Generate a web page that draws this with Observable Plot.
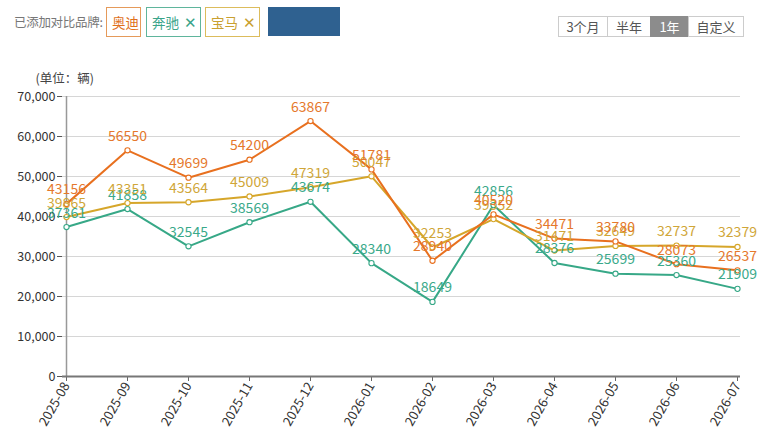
<!DOCTYPE html>
<html>
<head>
<meta charset="utf-8">
<script src="https://cdn.jsdelivr.net/npm/d3@7"></script>
<script src="https://cdn.jsdelivr.net/npm/@observablehq/plot@0.6"></script>
<style>
  html, body { margin: 0; padding: 0; background: #fff; }
  body { width: 764px; height: 433px; position: relative; overflow: hidden;
         font-family: "Noto Sans CJK SC", "Noto Sans", sans-serif; }
  #header { position: relative; height: 50px; }
  .abs { position: absolute; box-sizing: border-box; }
  .lbl { left: 14px; top: 12px; font-size: 12.5px; color: #777; line-height: 20px; letter-spacing: -0.3px; }
  .tag { top: 7px; height: 30px; border: 1px solid; font-size: 13.5px; line-height: 28px; padding-left: 5px; white-space: nowrap; }
  .x { font-size: 15px; margin-left: 5px; }
  .btn { top: 16px; height: 21px; border: 1px solid #ccc; font-size: 13px; line-height: 19px; text-align: center; color: #555; }
  #chart { position: absolute; left: 0; top: 50px; }
</style>
</head>
<body>
<div id="header"></div>
<div id="chart"></div>
<script>
const months = ["2025-08","2025-09","2025-10","2025-11","2025-12","2026-01","2026-02","2026-03","2026-04","2026-05","2026-06","2026-07"];
const brands = ["奥迪","奔驰","宝马"];
const audi = [43156, 56550, 49699, 54200, 63867, 51781, 28940, 40520, 34471, 33780, 28073, 26537];
const benz = [37361, 41858, 32545, 38569, 43674, 28340, 18649, 42856, 28376, 25699, 25360, 21909];
const bmw  = [39865, 43351, 43564, 45009, 47319, 50047, 32253, 39352, 31471, 32649, 32737, 32379];
const yTicks = [0, 10000, 20000, 30000, 40000, 50000, 60000, 70000];
const rangeButtons = ["3个月","半年","1年","自定义"];
const unitLabel = "(单位：辆)";
const headerLabel = "已添加对比品牌:";

const colors = {"奥迪": "#e8701f", "奔驰": "#37a887", "宝马": "#d6a62a"};
const textColors = {"奥迪": "#e5782c", "奔驰": "#3aa98a", "宝马": "#d0a638"};

// header (HTML)
const header = document.getElementById("header");
header.innerHTML = `
  <div class="abs lbl">${headerLabel}</div>
  <div class="abs tag" style="left:106px;width:35px;border-color:#e59a5a;color:#e0701c">${brands[0]}</div>
  <div class="abs tag" style="left:146px;width:55px;border-color:#5fb59c;color:#3aa48a">${brands[1]}<span class="x">✕</span></div>
  <div class="abs tag" style="left:205px;width:55px;border-color:#dcbc5c;color:#c9a030">${brands[2]}<span class="x">✕</span></div>
  <div class="abs" style="left:268px;top:7px;width:72px;height:29px;background:#2f6190"></div>
  <div class="abs btn" style="left:558px;width:50px">${rangeButtons[0]}</div>
  <div class="abs btn" style="left:607px;width:44px">${rangeButtons[1]}</div>
  <div class="abs btn" style="left:650px;width:39px;background:#8c8c8c;border-color:#8c8c8c;color:#fff">${rangeButtons[2]}</div>
  <div class="abs btn" style="left:688px;width:56px">${rangeButtons[3]}</div>
`;

const series = [[brands[0], audi], [brands[1], benz], [brands[2], bmw]];
const data = series.flatMap(([b, vals]) => vals.map((v, i) => ({brand: b, month: months[i], value: v})));
const drawOrder = ["奔驰", "宝马", "奥迪"];

const marks = [
  Plot.gridY(yTicks.slice(1), {stroke: "#d6d6d6", strokeOpacity: 1, strokeWidth: 1}),
  Plot.axisY(yTicks, {tickFormat: d3.format(","), tickSize: 5, tickPadding: 2, fontSize: 12.5, fill: "#333", stroke: "#555", label: null}),
  Plot.axisX({tickRotate: -60, tickSize: 5, tickPadding: 2, fontSize: 13, fill: "#333", stroke: "#666", label: null}),
  Plot.ruleX([months[0]], {stroke: "#999", strokeWidth: 1.5}),
  Plot.ruleY([0], {stroke: "#777", strokeWidth: 2}),
];
for (const b of drawOrder) {
  const d = data.filter(r => r.brand === b);
  marks.push(Plot.line(d, {x: "month", y: "value", stroke: colors[b], strokeWidth: 2}));
}
for (const b of drawOrder) {
  const d = data.filter(r => r.brand === b);
  marks.push(Plot.dot(d, {x: "month", y: "value", r: 2.6, fill: "#fff", stroke: colors[b], strokeWidth: 1.1}));
}
for (const b of drawOrder) {
  const d = data.filter(r => r.brand === b);
  marks.push(Plot.text(d, {x: "month", y: "value", text: r => String(r.value), dy: -14, fill: textColors[b], fontSize: 14}));
}
marks.push(Plot.text([unitLabel], {frameAnchor: "top-left", dx: -27, dy: -22, fill: "#444", fontSize: 12.5, textAnchor: "start"}));

const chart = Plot.plot({
  width: 764,
  height: 383,
  marginLeft: 62,
  marginRight: 24,
  marginTop: 46,
  marginBottom: 57,
  style: {fontFamily: "'Noto Sans CJK SC', 'Noto Sans', sans-serif", background: "#fff", overflow: "visible"},
  x: {type: "point", domain: months, padding: 0},
  y: {domain: [0, 70000]},
  marks
});
document.getElementById("chart").appendChild(chart);
</script>
</body>
</html>
